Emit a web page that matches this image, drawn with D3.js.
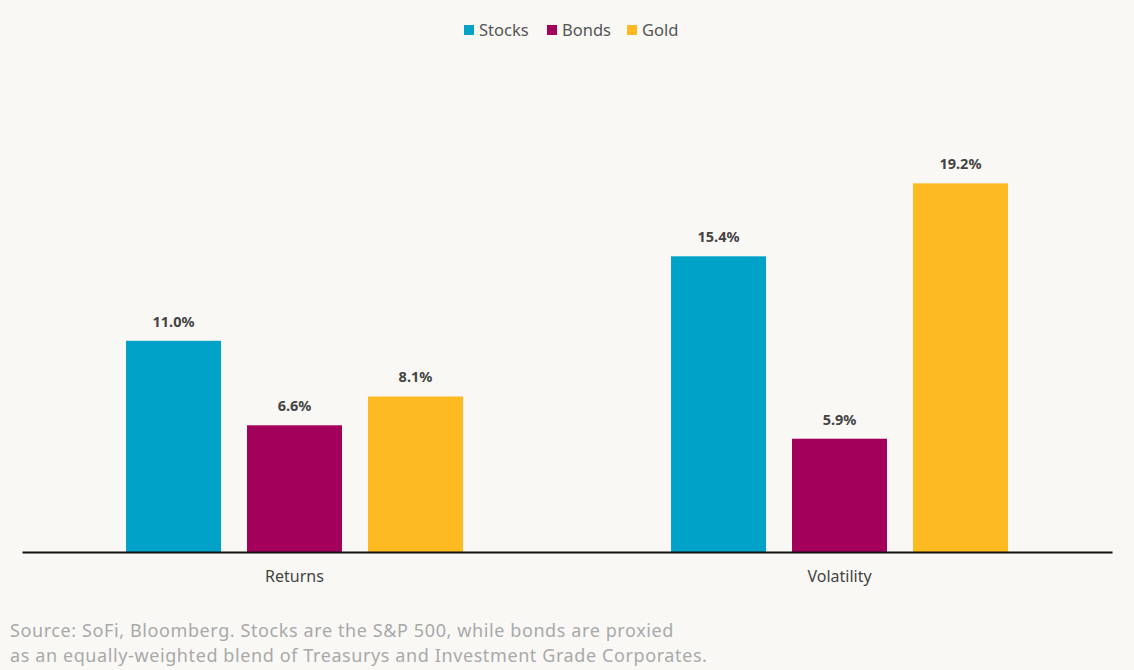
<!DOCTYPE html>
<html>
<head>
<meta charset="utf-8">
<script src="https://cdn.jsdelivr.net/npm/d3@7"></script>
<style>
  html, body { margin: 0; padding: 0; background: #f9f8f5; }
  svg { display: block; font-family: "Noto Sans", sans-serif; }
</style>
</head>
<body>
<svg width="1134" height="670"></svg>
<script>
// data
const categories = ['Returns', 'Volatility'];
const series = ['Stocks', 'Bonds', 'Gold'];
const stocks = [11.0, 15.4];
const bonds = [6.6, 5.9];
const gold = [8.1, 19.2];
const colors = ['#00a3c7', '#a2005b', '#fdba21'];

const values = [stocks, bonds, gold];
const rows = [];
categories.forEach((c, i) => {
  series.forEach((s, j) => rows.push({ cat: c, key: s, value: values[j][i] }));
});

const svg = d3.select('svg');
const baseY = 552;

// x0 : category, x1 : series inside the category
const x0 = d3.scaleBand().domain(categories).range([22, 1112]);
const x1 = d3.scaleBand().domain(series)
  .range([0, x0.bandwidth()])
  .paddingInner(0.215)
  .paddingOuter(0.86);
const y = d3.scaleLinear().domain([0, 20]).range([baseY, baseY - 384]);
const color = d3.scaleOrdinal().domain(series).range(colors);

// bars
svg.append('g').selectAll('rect')
  .data(rows)
  .enter()
  .append('rect')
  .attr('x', d => x0(d.cat) + x1(d.key))
  .attr('y', d => y(d.value))
  .attr('width', x1.bandwidth())
  .attr('height', d => baseY - y(d.value))
  .attr('fill', d => color(d.key));

// value labels
svg.append('g').selectAll('text')
  .data(rows)
  .enter()
  .append('text')
  .attr('x', d => x0(d.cat) + x1(d.key) + x1.bandwidth() / 2)
  .attr('y', d => y(d.value) - 14)
  .attr('text-anchor', 'middle')
  .attr('font-size', 14.5)
  .attr('font-weight', 700)
  .attr('fill', '#444')
  .text(d => d.value.toFixed(1) + '%');

// x axis
const xAxis = svg.append('g')
  .attr('transform', `translate(0,${baseY})`)
  .call(d3.axisBottom(x0).tickSize(0).tickPadding(19));
xAxis.select('.domain').attr('stroke', '#111').attr('stroke-width', 2);
xAxis.selectAll('text')
  .attr('font-family', '"Noto Sans", sans-serif')
  .attr('font-size', 16)
  .attr('fill', '#444');

// legend
const legend = svg.append('g').attr('transform', 'translate(464,30)');
const legendX = [0, 83, 163];
series.forEach((s, i) => {
  const g = legend.append('g').attr('transform', `translate(${legendX[i]},0)`);
  g.append('rect').attr('x', 0).attr('y', -5).attr('width', 10).attr('height', 10)
    .attr('fill', colors[i]);
  g.append('text').attr('x', 15).attr('y', 0).attr('dy', '0.35em')
    .attr('font-size', 16.5).attr('fill', '#555').text(s);
});

// source note
const note = [
  'Source: SoFi, Bloomberg. Stocks are the S&P 500, while bonds are proxied',
  'as an equally-weighted blend of Treasurys and Investment Grade Corporates.'
];
svg.append('g').selectAll('text')
  .data(note)
  .enter()
  .append('text')
  .attr('x', 10)
  .attr('y', (d, i) => 637 + i * 25)
  .attr('font-size', 18)
  .attr('letter-spacing', 0.6)
  .attr('fill', '#a9a9a9')
  .text(d => d);
</script>
</body>
</html>
